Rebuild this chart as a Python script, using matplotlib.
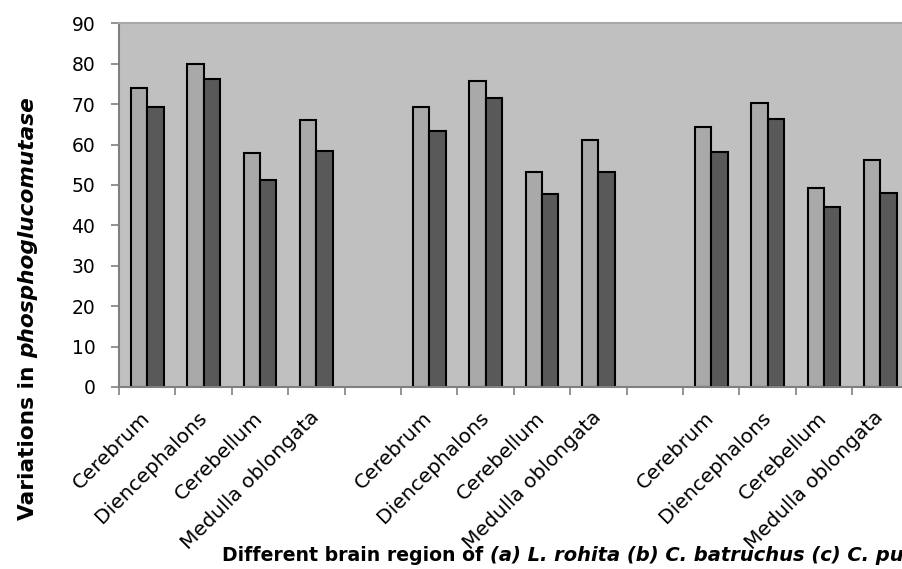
import numpy as np
import matplotlib
matplotlib.use("Agg")
import matplotlib.pyplot as plt

regions = ["Cerebrum", "Diencephalons", "Cerebellum", "Medulla oblongata"]

# two bars per brain region, one block per fish species
rohita_a = [74, 80, 58, 66]
rohita_b = [69.2, 76.2, 51.1, 58.4]
batruchus_a = [69.2, 75.8, 53.1, 61.1]
batruchus_b = [63.4, 71.4, 47.7, 53.1]
punctatus_a = [64.3, 70.2, 49.3, 56.2]
punctatus_b = [58.1, 66.3, 44.5, 47.9]

light = rohita_a + [np.nan] + batruchus_a + [np.nan] + punctatus_a
dark = rohita_b + [np.nan] + batruchus_b + [np.nan] + punctatus_b
labels = regions + [""] + regions + [""] + regions

W, H = 903, 569
fig = plt.figure(figsize=(W / 100, H / 100), dpi=100)
ax = fig.add_axes([119 / W, (H - 387) / H, (908.6 - 119) / W, (387 - 23.3) / H])
ax.set_facecolor("#C0C0C0")

x = np.arange(len(labels))
bw = 0.29
ax.bar(x - bw / 2, light, width=bw, color="#A9A9A9", edgecolor="black", linewidth=1.5)
ax.bar(x + bw / 2, dark, width=bw, color="#595959", edgecolor="black", linewidth=1.5)

ax.set_xlim(-0.5, len(labels) - 0.5)
ax.set_ylim(0, 90)
ax.set_yticks(np.arange(0, 91, 10))

ax.set_xticks(x)
ax.set_xticklabels(labels, rotation=45, ha="right", va="center",
                   rotation_mode="anchor", fontsize=14.5)
ax.set_xticks(np.arange(len(labels) + 1) - 0.5, minor=True)
ax.tick_params(axis="x", which="major", length=0, pad=20)
ax.tick_params(axis="x", which="minor", length=6, color="#808080", width=1.2)
ax.tick_params(axis="y", length=6, color="#808080", width=1.2, pad=11, labelsize=13.5)

for side in ["left", "bottom"]:
    ax.spines[side].set_color("#808080")
    ax.spines[side].set_linewidth(1.5)
ax.spines["top"].set_color("#A8A8A8")
ax.spines["top"].set_linewidth(1.5)
ax.spines["right"].set_visible(False)

fig.canvas.draw()
r = fig.canvas.get_renderer()

# y label: bold, then bold italic
t1 = fig.text(34 / W, (H - 520) / H, "Variations in", rotation=90, ha="left", va="baseline",
              rotation_mode="anchor", fontsize=15.6, fontweight="bold")
h1 = t1.get_window_extent(r).height
fig.text(34 / W, (H - 520 + h1 + 7) / H, "phosphoglucomutase", rotation=90, ha="left",
         va="baseline", rotation_mode="anchor", fontsize=15.6, fontweight="bold",
         style="italic")

# x label, cut at the right edge as in the original
x0 = 222
t2 = fig.text(x0 / W, (H - 561) / H, "Different brain region of", ha="left", va="baseline",
              fontsize=13.6, fontweight="bold")
w2 = t2.get_window_extent(r).width
fig.text((x0 + w2 + 7) / W, (H - 561) / H, "(a) L. rohita (b) C. batruchus (c) C. pu",
         ha="left", va="baseline", fontsize=14, fontweight="bold", style="italic")

fig.savefig("out.png", dpi=100)
